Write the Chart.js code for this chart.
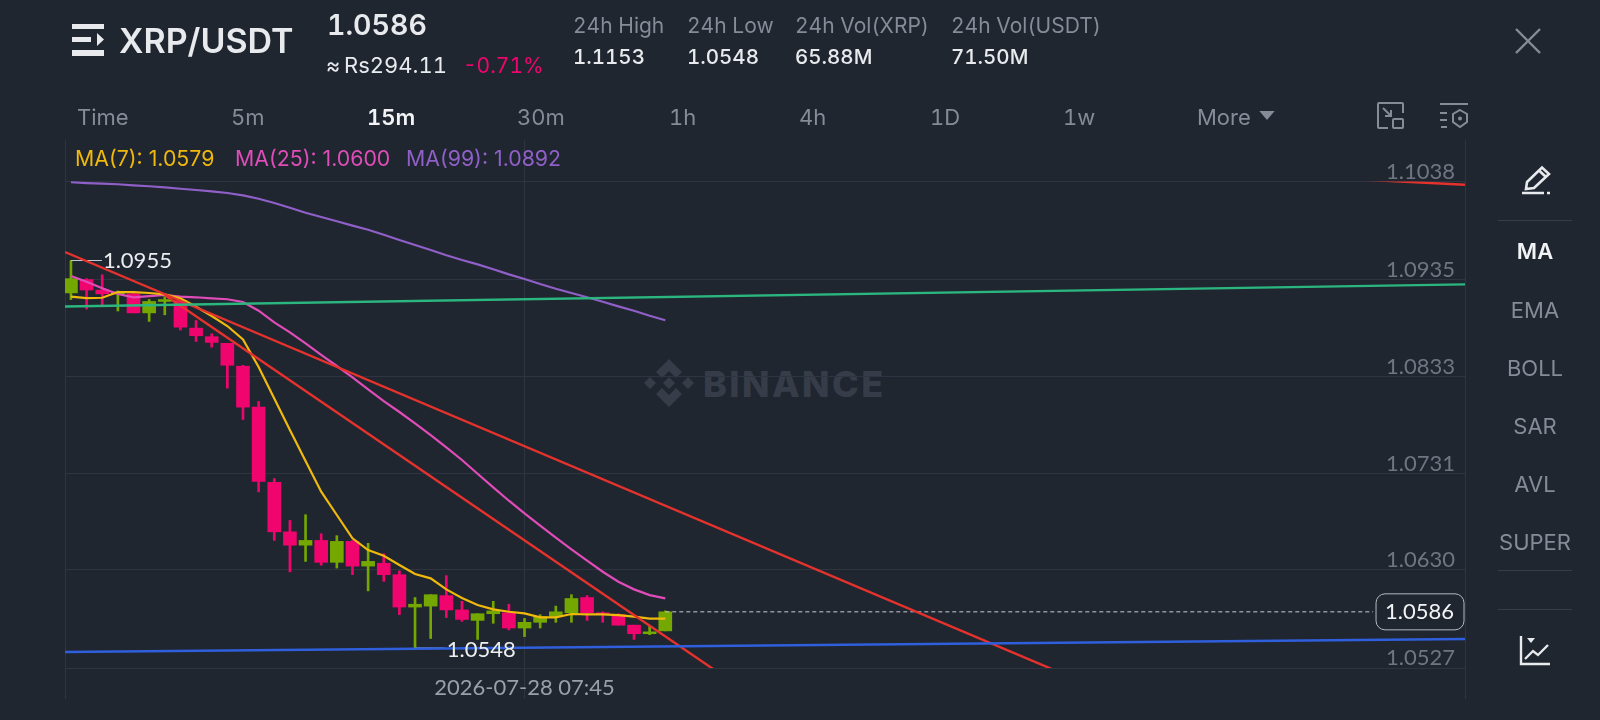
<!DOCTYPE html>
<html>
<head>
<meta charset="utf-8">
<title>XRP/USDT</title>
<script src="https://cdn.jsdelivr.net/npm/chart.js@4/dist/chart.umd.min.js"></script>
<style>
  html, body { margin: 0; padding: 0; width: 1600px; height: 720px; overflow: hidden; background: #1f2630; }
  body { position: relative; font-family: Inter, "Noto Sans", sans-serif; color: #848c98; font-feature-settings: "tnum"; }
  #chart { position: absolute; left: 0; top: 0; }
  .t { position: absolute; white-space: nowrap; line-height: 1; transform: translateY(-50%); }
  .c { transform: translate(-50%, -50%); }
  .bright { color: #e8eaed; }
  svg { position: absolute; overflow: visible; }
  .rule { position: absolute; left: 1498px; width: 74px; height: 1px; background: #363d48; }
  .legend { font-size: 21.3px; top: 159px; font-feature-settings: normal; }
</style>
</head>
<body>

<!-- watermark sits under the canvas -->
<svg style="left:645px;top:359px" width="48" height="48" viewBox="0 0 48 48" fill="#363d49">
  <path d="M24 0 L37 13 L31 19 L24 12 L17 19 L11 13 Z"/>
  <path d="M24 48 L37 35 L31 29 L24 36 L17 29 L11 35 Z"/>
  <path d="M24 18 L30 24 L24 30 L18 24 Z"/>
  <path d="M5 18 L11 24 L5 30 L-1 24 Z"/>
  <path d="M43 18 L49 24 L43 30 L37 24 Z"/>
</svg>
<div class="t" style="left:703px;top:384px;font-size:36px;font-weight:800;letter-spacing:2.4px;color:#363d49">BINANCE</div>

<canvas id="chart" width="1600" height="720"></canvas>

<!-- header -->
<svg style="left:72px;top:24px" width="32" height="32" viewBox="0 0 32 32" fill="#e8eaed">
  <rect x="0" y="0" width="32" height="5"/>
  <rect x="0" y="13" width="19" height="5"/>
  <path d="M25 9 L32 15.5 L25 22 Z"/>
  <rect x="0" y="26" width="32" height="6"/>
</svg>
<div class="t bright" style="left:119px;top:41px;font-size:34px;font-weight:600;font-feature-settings:normal">XRP/USDT</div>
<div class="t bright" style="left:327px;top:25px;font-size:28.5px;font-weight:600">1.0586</div>
<div class="t bright" style="left:326px;top:65px;font-size:22px">≈</div>
<div class="t bright" style="left:344px;top:65px;font-size:22px">Rs294.11</div>
<div class="t" style="left:463px;top:65px;font-size:21px;color:#f0056f">-0.71%</div>

<div class="t" style="left:573px;top:25px;font-size:21px">24h High</div>
<div class="t" style="left:687px;top:25px;font-size:21px">24h Low</div>
<div class="t" style="left:795px;top:25px;font-size:21px">24h Vol(XRP)</div>
<div class="t" style="left:951px;top:25px;font-size:21px">24h Vol(USDT)</div>
<div class="t bright" style="left:573px;top:57px;font-size:20.5px;font-weight:500">1.1153</div>
<div class="t bright" style="left:687px;top:57px;font-size:20.5px;font-weight:500">1.0548</div>
<div class="t bright" style="left:795px;top:57px;font-size:20.5px;font-weight:500">65.88M</div>
<div class="t bright" style="left:951px;top:57px;font-size:20.5px;font-weight:500">71.50M</div>

<svg style="left:1515px;top:28px" width="26" height="26" viewBox="0 0 26 26" stroke="#848c98" stroke-width="2.4">
  <path d="M1 1 L25 25 M25 1 L1 25"/>
</svg>

<!-- interval tabs -->
<div class="t" style="left:77px;top:117px;font-size:22px">Time</div>
<div class="t" style="left:231px;top:117px;font-size:22px">5m</div>
<div class="t" style="left:367px;top:117px;font-size:22px;font-weight:600;color:#f2f3f5">15m</div>
<div class="t" style="left:517px;top:117px;font-size:22px">30m</div>
<div class="t" style="left:669px;top:117px;font-size:22px">1h</div>
<div class="t" style="left:799px;top:117px;font-size:22px">4h</div>
<div class="t" style="left:930px;top:117px;font-size:22px">1D</div>
<div class="t" style="left:1063px;top:117px;font-size:22px">1w</div>
<div class="t" style="left:1197px;top:117px;font-size:22px">More</div>
<svg style="left:1259px;top:111px" width="16" height="9" viewBox="0 0 17 10" fill="#848c98"><path d="M0 0 H17 L8.5 10 Z"/></svg>

<svg style="left:1377px;top:102px" width="27" height="27" viewBox="0 0 27 27" fill="none" stroke="#848c98" stroke-width="2">
  <path d="M11 26 H2 a1 1 0 0 1 -1 -1 V2 a1 1 0 0 1 1 -1 H25 a1 1 0 0 1 1 1 V11"/>
  <rect x="16" y="17" width="10" height="9" rx="1"/>
  <path d="M6 6 L14 14 M14 8 V14 H8"/>
</svg>
<svg style="left:1440px;top:103px" width="28" height="26" viewBox="0 0 28 26" fill="none" stroke="#848c98" stroke-width="2">
  <path d="M0 1 H28 M0 10 H7 M0 17 H7 M1 24 H7"/>
  <path d="M20 7 L27 11 V19 L20 24 L13 19 V11 Z"/>
  <circle cx="20" cy="15.5" r="2" fill="#848c98" stroke="none"/>
</svg>

<!-- side panel -->
<svg style="left:1522px;top:166px" width="28" height="28" viewBox="0 0 28 28" fill="none" stroke="#e8eaed" stroke-width="2.6">
  <path d="M5 16 L20 1.5 L27 8 L12 22 L4 23 Z"/>
  <path d="M17 4.5 L24 11"/>
  <path d="M0 27 H22 M25 27 H28"/>
</svg>
<div class="rule" style="top:220px"></div>
<div class="t c" style="left:1535px;top:251px;font-size:22px;font-weight:600;color:#f2f3f5">MA</div>
<div class="t c" style="left:1535px;top:310px;font-size:22px">EMA</div>
<div class="t c" style="left:1535px;top:368px;font-size:22px">BOLL</div>
<div class="t c" style="left:1535px;top:426px;font-size:22px">SAR</div>
<div class="t c" style="left:1535px;top:484px;font-size:22px">AVL</div>
<div class="t c" style="left:1535px;top:542px;font-size:22px">SUPER</div>
<div class="rule" style="top:570px"></div>
<div class="rule" style="top:609px"></div>
<svg style="left:1520px;top:636px" width="30" height="29" viewBox="0 0 30 29" fill="none" stroke="#e8eaed" stroke-width="2.4">
  <path d="M1 0 V28 H30"/>
  <path d="M5 23 L13 15 L18 19 L28 9"/>
  <path d="M7 2 H15 L11 7 Z" fill="#e8eaed" stroke="none"/>
</svg>

<!-- indicator legend -->
<div class="t legend" style="left:75px;color:#f0b90b">MA(7): 1.0579</div>
<div class="t legend" style="left:235px;color:#e04cb8">MA(25): 1.0600</div>
<div class="t legend" style="left:406px;color:#9060c8">MA(99): 1.0892</div>

<script>
// Candles, oldest first
const opens = [1.0921, 1.0935, 1.0924, 1.0920, 1.0920, 1.0900, 1.0912, 1.0913, 1.0884, 1.0875,
    1.0868, 1.0844, 1.0801, 1.0722, 1.0670, 1.0656, 1.0661, 1.0638, 1.0660, 1.0634,
    1.0637, 1.0625, 1.0591, 1.0592, 1.0603, 1.0588, 1.0577, 1.0584, 1.0585, 1.0569,
    1.0575, 1.0581, 1.0585, 1.0601, 1.0585, 1.0583, 1.0572, 1.0563, 1.0566];
const closes = [1.0936, 1.0924, 1.0920, 1.0922, 1.0900, 1.0912, 1.0914, 1.0885, 1.0876, 1.0869,
    1.0845, 1.0801, 1.0723, 1.0670, 1.0656, 1.0661, 1.0638, 1.0660, 1.0634, 1.0639,
    1.0625, 1.0591, 1.0594, 1.0604, 1.0588, 1.0578, 1.0584, 1.0587, 1.0569, 1.0575,
    1.0581, 1.0586, 1.0600, 1.0585, 1.0583, 1.0572, 1.0563, 1.0565, 1.0586];
const highs = [1.0955, 1.0936, 1.0940, 1.0923, 1.0921, 1.0914, 1.0917, 1.0913, 1.0892, 1.0878,
    1.0868, 1.0845, 1.0807, 1.0726, 1.0682, 1.0688, 1.0668, 1.0666, 1.0661, 1.0658,
    1.0647, 1.0629, 1.0601, 1.0604, 1.0624, 1.0597, 1.0584, 1.0597, 1.0594, 1.0579,
    1.0583, 1.0592, 1.0604, 1.0603, 1.0586, 1.0584, 1.0572, 1.0571, 1.0587];
const lows = [1.0914, 1.0904, 1.0908, 1.0902, 1.0900, 1.0891, 1.0898, 1.0882, 1.0870, 1.0864,
    1.0821, 1.0788, 1.0712, 1.0661, 1.0628, 1.0639, 1.0635, 1.0632, 1.0625, 1.0608,
    1.0618, 1.0583, 1.0548, 1.0558, 1.0580, 1.0576, 1.0557, 1.0574, 1.0567, 1.0560,
    1.0569, 1.0575, 1.0575, 1.0577, 1.0575, 1.0572, 1.0557, 1.0562, 1.0566];

const ma7 = [1.0917, 1.09156, 1.09159, 1.09219, 1.09219, 1.09209, 1.09195, 1.09153, 1.09065, 1.08967,
    1.08862, 1.08722, 1.08431, 1.081, 1.0777, 1.07444, 1.07122, 1.06877, 1.06632, 1.06509,
    1.06449, 1.06352, 1.06257, 1.06212, 1.06096, 1.06005, 1.05931, 1.05886, 1.05861, 1.05844,
    1.05802, 1.05802, 1.05837, 1.05834, 1.05834, 1.05826, 1.05809, 1.05788, 1.05788];
const ma25 = [1.09387, 1.09327, 1.09258, 1.09198, 1.09164, 1.09177, 1.09188, 1.0917, 1.09164, 1.09153,
    1.09143, 1.09114, 1.09023, 1.08901, 1.08796, 1.0868, 1.08558, 1.08442, 1.08323, 1.08197,
    1.08074, 1.07959, 1.0784, 1.07717, 1.07588, 1.07455, 1.0731, 1.07168, 1.07027, 1.06895,
    1.06766, 1.0664, 1.06517, 1.06397, 1.06281, 1.06176, 1.06096, 1.06036, 1.06002];
const ma99 = [1.10372, 1.10364, 1.10357, 1.10351, 1.1034, 1.1033, 1.10319, 1.10304, 1.10291, 1.10277,
    1.10259, 1.10235, 1.10199, 1.10154, 1.10105, 1.10052, 1.10007, 1.09962, 1.09916, 1.09873,
    1.09821, 1.09766, 1.09713, 1.0966, 1.09605, 1.09555, 1.0951, 1.09458, 1.09405, 1.09356,
    1.09303, 1.09254, 1.09209, 1.09164, 1.09117, 1.09069, 1.09023, 1.0897, 1.08922];

// Hand drawn trend lines, [candle index, price]
const trendRedLong = [[-0.38, 1.09639], [64, 1.0517]];
const trendRedShort = [[6, 1.09188], [41.5, 1.0521]];
const trendRedTop = [[70, 1.10503], [89.13, 1.10346]];
const trendGreen = [[-0.38, 1.09067], [89.13, 1.09299]];
const trendBlue = [[-0.38, 1.05438], [89.13, 1.05574]];

const yTicks = [1.1038, 1.0935, 1.0833, 1.0731, 1.0630, 1.0527];
const xTimeIndex = 29;
const xTimeLabel = '2026-07-28 07:45';
const xMin = -0.38;
const xMax = 89.13;
const yMin = 1.0527;
const yMax = 1.10816;

const lastPrice = 1.0586;
const lastPriceEnd = 83.25;
const highPrice = 1.0955;
const highIndex = 0;
const highEnd = 1.98;
const lowPrice = 1.0548;
const lowIndex = 22;
const lowEnd = 23.9;

const UP = '#74a800';
const DOWN = '#f0056f';
const GRID = '#2e3540';

const indexes = opens.map((_, i) => i);
const candleColors = indexes.map(i => closes[i] >= opens[i] ? UP : DOWN);

function toPoints(values) {
    return values.map((v, i) => ({ x: i, y: v }));
}

function toXY(pairs) {
    return pairs.map(p => ({ x: p[0], y: p[1] }));
}

function lineSet(label, data, color, extra) {
    return Object.assign({
        type: 'line',
        label: label,
        data: data,
        borderColor: color,
        borderWidth: 2.4,
        pointRadius: 0,
        tension: 0,
        order: 1
    }, extra);
}

// Texts next to the chart marks, the time label hangs below the plot area
const priceLabels = {
    id: 'priceLabels',
    afterDatasetsDraw(chart) {
        const { ctx, scales } = chart;
        ctx.save();
        ctx.font = '22px Lato';
        ctx.textBaseline = 'middle';
        ctx.fillStyle = '#eceef0';
        ctx.textAlign = 'left';
        ctx.fillText(highPrice.toFixed(4), scales.x.getPixelForValue(highEnd) + 1, scales.y.getPixelForValue(highPrice));
        ctx.fillText(lowPrice.toFixed(4), scales.x.getPixelForValue(lowEnd) + 2, scales.y.getPixelForValue(lowPrice) + 2);

        ctx.fillStyle = '#9aa0a9';
        ctx.textAlign = 'center';
        ctx.fillText(xTimeLabel, scales.x.getPixelForValue(xTimeIndex), chart.chartArea.bottom + 20);

        const y = scales.y.getPixelForValue(lastPrice);
        const left = scales.x.getPixelForValue(lastPriceEnd) + 3;
        const right = chart.chartArea.right - 1;
        ctx.beginPath();
        ctx.roundRect(left, y - 18, right - left, 36, 9);
        ctx.fillStyle = '#1f2630';
        ctx.fill();
        ctx.lineWidth = 1;
        ctx.strokeStyle = '#b6bac0';
        ctx.stroke();
        ctx.fillStyle = '#f2f3f5';
        ctx.textAlign = 'right';
        ctx.fillText(lastPrice.toFixed(4), right - 10, y);
        ctx.restore();
    }
};

new Chart(document.getElementById('chart'), {
    type: 'bar',
    data: {
        datasets: [
            {
                label: 'wick',
                data: indexes.map(i => ({ x: i, y: [lows[i], highs[i]] })),
                backgroundColor: candleColors,
                barThickness: 2,
                grouped: false,
                order: 6
            },
            {
                label: 'body',
                data: indexes.map(i => ({ x: i, y: [opens[i], closes[i]] })),
                backgroundColor: candleColors,
                barThickness: 13,
                grouped: false,
                order: 5
            },
            lineSet('MA(7)', toPoints(ma7), '#f0b90b', { borderWidth: 2.2, order: 3 }),
            lineSet('MA(25)', toPoints(ma25), '#e04cb8', { borderWidth: 2.2, order: 3 }),
            lineSet('MA(99)', toPoints(ma99), '#9060c8', { borderWidth: 2.2, order: 3 }),
            lineSet('last', toXY([[opens.length - 1, lastPrice], [lastPriceEnd, lastPrice]]), '#c8ccd1', { borderWidth: 1, borderDash: [4, 3], order: 2 }),
            lineSet('high', toXY([[highIndex, highPrice], [highEnd, highPrice]]), '#c8ccd1', { borderWidth: 1, order: 2 }),
            lineSet('low', toXY([[lowIndex, lowPrice], [lowEnd, lowPrice]]), '#c8ccd1', { borderWidth: 1, order: 2 }),
            lineSet('green', toXY(trendGreen), '#2cb67f', {}),
            lineSet('blue', toXY(trendBlue), '#2f5fdc', {}),
            lineSet('red long', toXY(trendRedLong), '#e6322d', {}),
            lineSet('red short', toXY(trendRedShort), '#e6322d', {}),
            // top of the plot is 41px above the 1.1038 line, this one stops at that line
            lineSet('red top', toXY(trendRedTop), '#e6322d', { clip: { left: 0, right: 0, top: -41.5, bottom: 0 } })
        ]
    },
    options: {
        responsive: false,
        animation: false,
        events: [],
        layout: { padding: { left: 65, right: 135, top: 140, bottom: 52 } },
        plugins: { legend: { display: false }, tooltip: { enabled: false } },
        scales: {
            x: {
                type: 'linear',
                min: xMin,
                max: xMax,
                offset: false,
                afterFit: s => { s.height = 0; s.paddingLeft = 0; s.paddingRight = 0; },
                afterBuildTicks: s => { s.ticks = [{ value: xMin }, { value: xTimeIndex }, { value: xMax }]; },
                border: { display: false },
                grid: { color: GRID, tickColor: GRID, offset: false, tickLength: 31, lineWidth: 1 },
                ticks: { display: false }
            },
            y: {
                position: 'right',
                min: yMin,
                max: yMax,
                afterFit: s => { s.width = 0; },
                afterBuildTicks: s => { s.ticks = yTicks.map(v => ({ value: v })); },
                border: { display: false },
                grid: { color: GRID, drawTicks: false },
                ticks: {
                    mirror: true,
                    padding: -10,
                    labelOffset: -10,
                    color: '#6f7681',
                    font: { family: 'Lato', size: 22 },
                    callback: v => v.toFixed(4)
                }
            }
        }
    },
    plugins: [priceLabels]
});
</script>
</body>
</html>
